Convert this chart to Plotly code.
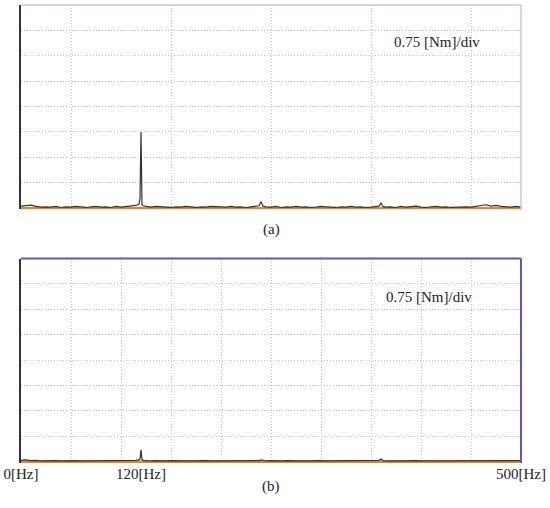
import plotly.graph_objects as go
from plotly.subplots import make_subplots

# frequency bins [Hz]
freq = [0, 5, 10, 15, 20, 25, 30, 35, 40, 45, 50, 55, 60, 65, 70, 75, 80, 85, 90, 95,
        100, 105, 110, 115, 118, 119, 120, 121, 122,
        125, 130, 135, 140, 145, 150, 155, 160, 165, 170, 175, 180, 185, 190, 195,
        200, 205, 210, 215, 220, 225, 230, 235, 238, 240, 242,
        245, 250, 255, 260, 265, 270, 275, 280, 285, 290, 295, 300, 305, 310, 315,
        320, 325, 330, 335, 340, 345, 350, 355, 358, 360, 362,
        365, 370, 375, 380, 385, 390, 395, 400, 405, 410, 415, 420, 425, 430, 435,
        440, 445, 450, 455, 460, 465, 470, 475, 480, 485, 490, 495, 500]

# torque spectrum (a) [Nm]
torque_a = [0.06, 0.07, 0.09, 0.05, 0.03, 0.04, 0.03, 0.05, 0.02, 0.04,
            0.03, 0.05, 0.03, 0.02, 0.04, 0.05, 0.03, 0.04, 0.02, 0.05,
            0.03, 0.04, 0.06, 0.08,
            0.12, 0.28, 2.25, 0.10, 0.07,
            0.06, 0.03, 0.05, 0.04, 0.03, 0.02, 0.04, 0.03, 0.05, 0.03,
            0.02, 0.04, 0.03, 0.05, 0.04, 0.02, 0.03, 0.05, 0.03, 0.04,
            0.02, 0.04, 0.05,
            0.07, 0.19, 0.06,
            0.04, 0.03, 0.05, 0.02, 0.04, 0.03, 0.05, 0.03, 0.04, 0.02,
            0.03, 0.05, 0.04, 0.03, 0.02, 0.04, 0.03, 0.05, 0.03, 0.04,
            0.02, 0.03, 0.05,
            0.06, 0.15, 0.05,
            0.03, 0.04, 0.02, 0.05, 0.03, 0.04, 0.06, 0.03, 0.02, 0.04,
            0.05, 0.03, 0.04, 0.02, 0.03, 0.05, 0.04, 0.03, 0.05, 0.07,
            0.10, 0.06, 0.08, 0.05, 0.04, 0.03, 0.05, 0.03]

# torque spectrum (b) [Nm]
torque_b = [0.04, 0.05, 0.03, 0.04, 0.02, 0.03, 0.02, 0.03, 0.02, 0.03,
            0.02, 0.03, 0.02, 0.02, 0.03, 0.02, 0.03, 0.02, 0.02, 0.03,
            0.02, 0.03, 0.03, 0.04,
            0.05, 0.08, 0.35, 0.06, 0.04,
            0.03, 0.02, 0.03, 0.02, 0.02, 0.03, 0.02, 0.03, 0.02, 0.02,
            0.03, 0.02, 0.03, 0.02, 0.02, 0.03, 0.02, 0.03, 0.02, 0.02,
            0.03, 0.02, 0.03,
            0.03, 0.05, 0.03,
            0.02, 0.03, 0.02, 0.02, 0.03, 0.02, 0.03, 0.02, 0.02, 0.03,
            0.02, 0.03, 0.02, 0.02, 0.03, 0.02, 0.03, 0.02, 0.02, 0.03,
            0.02, 0.03, 0.02,
            0.04, 0.08, 0.03,
            0.02, 0.03, 0.02, 0.02, 0.03, 0.02, 0.03, 0.02, 0.02, 0.03,
            0.02, 0.03, 0.02, 0.02, 0.03, 0.02, 0.03, 0.02, 0.02, 0.03,
            0.04, 0.03, 0.04, 0.03, 0.02, 0.03, 0.02, 0.03]

baseline = [0, 500]
tick_vals = [0, 120, 500]
tick_text = ["0[Hz]", "120[Hz]", "500[Hz]"]
scale_label = "0.75 [Nm]/div"
panel_labels = ["(a)", "(b)"]

SERIF = "Liberation Serif"
GRID = "#bcbcec"
ORANGE = "#d88a2c"

fig = make_subplots(rows=2, cols=1, vertical_spacing=0.107)

for row, vals in [(1, torque_a), (2, torque_b)]:
    fig.add_trace(go.Scatter(x=baseline, y=[0, 0], mode="lines",
                             line=dict(color=ORANGE, width=2.5),
                             showlegend=False, hoverinfo="skip"), row=row, col=1)
    fig.add_trace(go.Scatter(x=freq, y=vals, mode="lines",
                             line=dict(color="#333333", width=1.2),
                             showlegend=False), row=row, col=1)

    fig.update_xaxes(range=[0, 500], showgrid=False, zeroline=False,
                     showline=False, ticks="", automargin=False,
                     minor=dict(tickmode="linear", tick0=0, dtick=50, showgrid=True,
                                gridcolor=GRID, griddash="1px,2px", gridwidth=1),
                     row=row, col=1)
    fig.update_yaxes(range=[-0.04, 6], tick0=0, dtick=0.75, showgrid=True,
                     gridcolor=GRID, griddash="1px,2px", gridwidth=1,
                     zeroline=False, showticklabels=False, ticks="", automargin=False,
                     showline=True, linecolor="#333333", linewidth=1.5,
                     row=row, col=1)

fig.update_xaxes(showticklabels=False, row=1, col=1)
fig.update_xaxes(tickmode="array", tickvals=tick_vals, ticktext=tick_text,
                 tickfont=dict(family=SERIF, size=15, color="#222222"),
                 row=2, col=1)

# panel frames
fig.add_shape(type="line", xref="x domain", yref="y domain", x0=0, x1=1, y0=1, y1=1,
              line=dict(color="#c6c6ea", width=1.5))
fig.add_shape(type="line", xref="x domain", yref="y domain", x0=1, x1=1, y0=0, y1=1,
              line=dict(color="#c6c6ea", width=1.5))
fig.add_shape(type="line", xref="x2 domain", yref="y2 domain", x0=0, x1=1, y0=1, y1=1,
              line=dict(color="#6a52b8", width=2))
fig.add_shape(type="line", xref="x2 domain", yref="y2 domain", x0=1, x1=1, y0=0, y1=1,
              line=dict(color="#6a52b8", width=2))

fig.add_annotation(x=416, y=4.9, xref="x", yref="y", text=scale_label, showarrow=False,
                   font=dict(family=SERIF, size=15, color="#222222"))
fig.add_annotation(x=408, y=4.85, xref="x2", yref="y2", text=scale_label, showarrow=False,
                   font=dict(family=SERIF, size=15, color="#222222"))
fig.add_annotation(x=0.5, y=0.509, xref="paper", yref="paper", text=panel_labels[0],
                   showarrow=False, font=dict(family=SERIF, size=15, color="#222222"))
fig.add_annotation(x=0.5, y=-0.074, xref="paper", yref="paper", text=panel_labels[1],
                   showarrow=False, font=dict(family=SERIF, size=15, color="#222222"))

fig.update_layout(width=550, height=508, margin=dict(l=21, r=29, t=5, b=45),
                  plot_bgcolor="white", paper_bgcolor="white")

fig.write_html("out.html", config={"displayModeBar": False},
               post_script="document.body.style.margin='0';")
